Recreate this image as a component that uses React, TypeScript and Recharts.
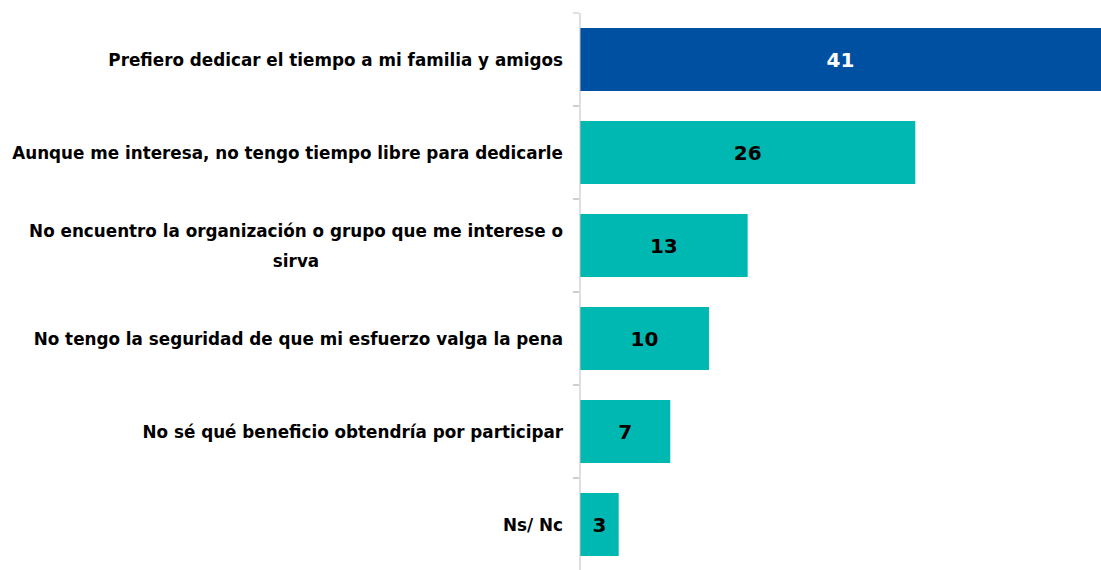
import { BarChart, Bar, XAxis, YAxis, Cell, LabelList } from "recharts";

const categories = [
    "Prefiero dedicar el tiempo a mi familia y amigos",
    "Aunque me interesa, no tengo tiempo libre para dedicarle",
    "No encuentro la organización o grupo que me interese o sirva",
    "No tengo la seguridad de que mi esfuerzo valga la pena",
    "No sé qué beneficio obtendría por participar",
    "Ns/ Nc",
];
const values = [41, 26, 13, 10, 7, 3];
const barColors = ["#0050A2", "#00B8B2", "#00B8B2", "#00B8B2", "#00B8B2", "#00B8B2"];
const labelColors = ["#FFFFFF", "#000000", "#000000", "#000000", "#000000", "#000000"];

const data = categories.map((name, i) => ({ name, value: values[i] }));

const FONT = "'DejaVu Sans', Verdana, sans-serif";
const BAND = 93;

// split long labels into lines of at most maxChars characters
const wrap = (text: string, maxChars: number) => {
    const words = text.split(" ");
    const lines: string[] = [];
    let cur = "";
    words.forEach((w) => {
        const next = cur ? cur + " " + w : w;
        if (next.length > maxChars && cur) {
            lines.push(cur);
            cur = w;
        } else {
            cur = next;
        }
    });
    if (cur) lines.push(cur);
    return lines;
};

const CategoryTick = (props: any) => {
    const { x, y, payload } = props;
    const lines = wrap(payload.value, 56);
    const lineH = 30;
    const startY = y - ((lines.length - 1) * lineH) / 2;
    return (
        <g>
            <line x1={x + 1} x2={x + 7} y1={y - BAND / 2} y2={y - BAND / 2} stroke="#BFBFBF" />
            <line x1={x + 1} x2={x + 7} y1={y + BAND / 2} y2={y + BAND / 2} stroke="#BFBFBF" />
            {lines.map((ln, i) => (
                <text
                    key={i}
                    x={i === 0 ? x - 9 : x - 9 - 267}
                    y={startY + i * lineH}
                    dy="0.36em"
                    textAnchor={i === 0 ? "end" : "middle"}
                    fontFamily={FONT}
                    fontWeight="bold"
                    fontSize={16.8}
                    fill="#000000"
                >
                    {ln}
                </text>
            ))}
        </g>
    );
};

const ValueLabel = (props: any) => {
    const { x, y, width, height, value, index } = props;
    const w = Math.min(width, 1101 - x);
    return (
        <text
            x={x + w / 2}
            y={y + height / 2}
            dy="0.36em"
            textAnchor="middle"
            fontFamily={FONT}
            fontWeight="bold"
            fontSize={20}
            fill={labelColors[index]}
        >
            {value}
        </text>
    );
};

export default function App() {
    return (
        <div style={{ position: "fixed", left: 0, top: 0, width: 1101, height: 571, background: "#fff" }}>
            <BarChart
                width={1101}
                height={571}
                data={data}
                layout="vertical"
                margin={{ top: 13, right: 0, bottom: 0, left: 0 }}
            >
                <XAxis type="number" domain={[0, 40.4]} allowDataOverflow hide />
                <YAxis
                    type="category"
                    dataKey="name"
                    width={580}
                    axisLine={{ stroke: "#BFBFBF" }}
                    tickLine={false}
                    tick={<CategoryTick />}
                    interval={0}
                />
                <Bar dataKey="value" barSize={63} isAnimationActive={false}>
                    {data.map((d, i) => (
                        <Cell key={d.name} fill={barColors[i]} />
                    ))}
                    <LabelList dataKey="value" content={<ValueLabel />} />
                </Bar>
            </BarChart>
        </div>
    );
}
